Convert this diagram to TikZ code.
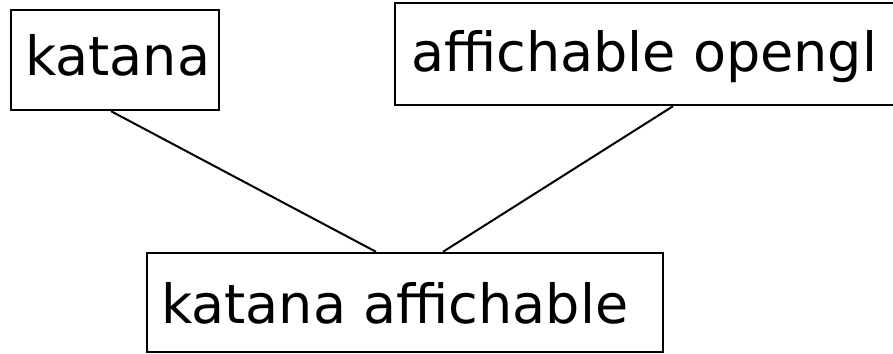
\documentclass[tikz,border=0pt]{standalone}
\usepackage{fontspec}
\setmainfont{DejaVu Sans}
\begin{document}
\begin{tikzpicture}[x=1pt,y=1pt,
  box/.style={draw=black, line width=2.4pt, fill=white, rectangle, inner sep=0pt},
  label/.style={anchor=base west, inner sep=0pt, font=\fontsize{54}{62}\selectfont},
  link/.style={draw=black, line width=2pt}]
  \useasboundingbox (0,0) rectangle (893,353);
  % the three classes
  \node[box, minimum width=208pt, minimum height=100pt] (k) at (115,293) {};
  \node[box, minimum width=500pt, minimum height=102pt] (o) at (645,299) {};
  \node[box, minimum width=516pt, minimum height=99pt] (b) at (405,50.5) {};
  % class names
  \node[label] (kt) at (25,277) {katana};
  \node[label] (ot) at (411,281) {affichable opengl};
  \node[label] (bt) at (161,30) {katana affichable};
  % inheritance links
  \draw[link] ([xshift=-4pt]k.south) -- ([xshift=-29pt]b.north);
  \draw[link] ([xshift=28pt]o.south) -- ([xshift=38pt]b.north);
\end{tikzpicture}
\end{document}
